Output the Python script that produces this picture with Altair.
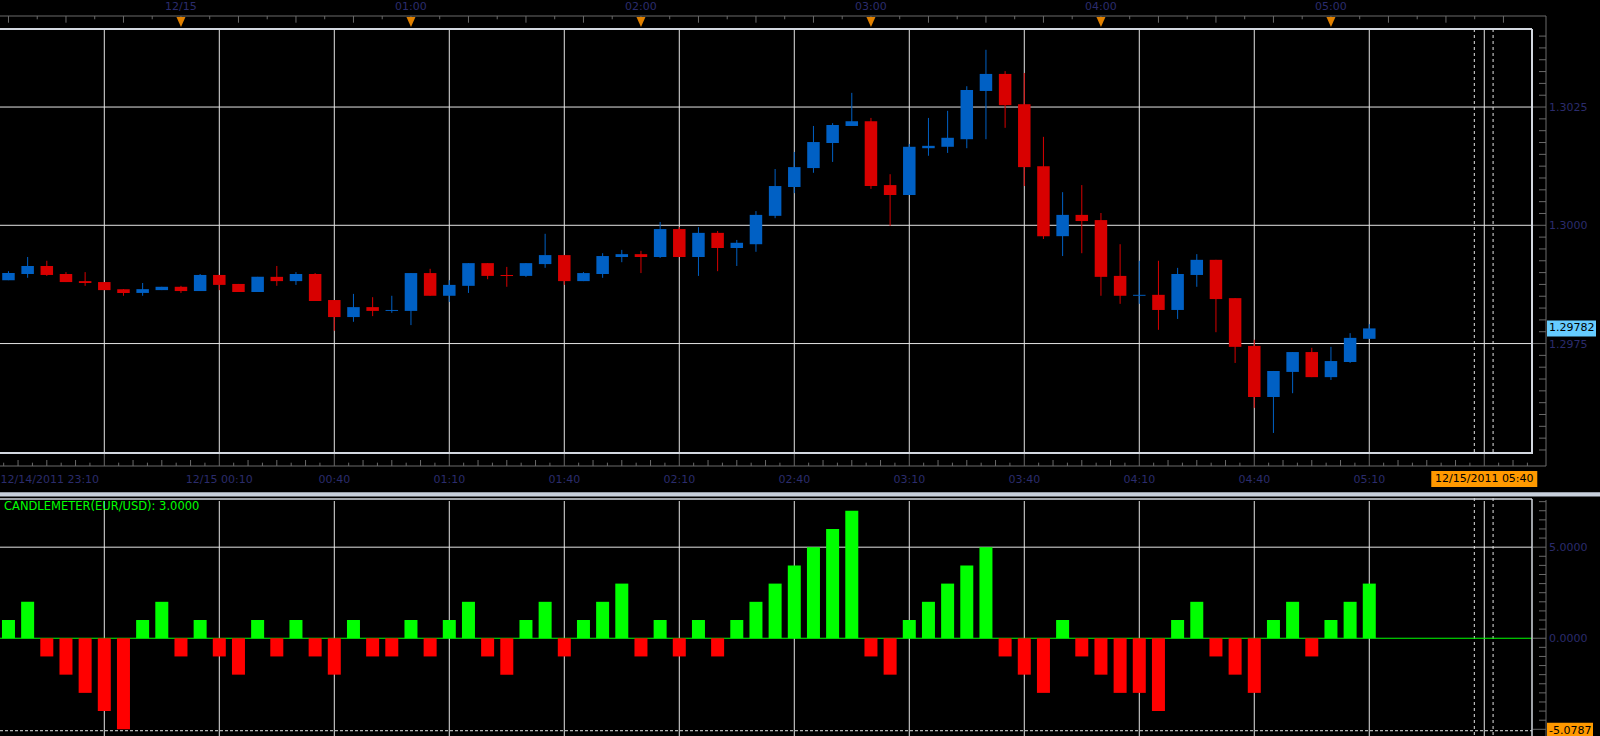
import altair as alt
import pandas as pd

# ---------------- data: EUR/USD 5-minute candles ----------------
# x position = minutes after 12/14/2011 23:00 (first candle 23:15, last 05:10)
MINUTES = [15 + 5 * i for i in range(72)]

OPEN = [1.29884, 1.29897, 1.29914, 1.29897, 1.29882, 1.29880, 1.29865, 1.29857, 1.29863, 1.29870,
        1.29861, 1.29895, 1.29876, 1.29859, 1.29891, 1.29882, 1.29897, 1.29842, 1.29806, 1.29827,
        1.29819, 1.29819, 1.29899, 1.29851, 1.29872, 1.29920, 1.29895, 1.29893, 1.29918, 1.29937,
        1.29882, 1.29897, 1.29933, 1.29939, 1.29933, 1.29992, 1.29933, 1.29984, 1.29952, 1.29960,
        1.30020, 1.30081, 1.30121, 1.30174, 1.30210, 1.30220, 1.30085, 1.30064, 1.30163, 1.30166,
        1.30182, 1.30284, 1.30320, 1.30256, 1.30125, 1.29977, 1.30022, 1.30011, 1.29893, 1.29851,
        1.29853, 1.29821, 1.29895, 1.29927, 1.29846, 1.29745, 1.29637, 1.29690, 1.29732, 1.29679,
        1.29711, 1.29760]
HIGH = [1.29903, 1.29933, 1.29925, 1.29901, 1.29901, 1.29880, 1.29865, 1.29878, 1.29870, 1.29872,
        1.29897, 1.29895, 1.29876, 1.29891, 1.29914, 1.29901, 1.29899, 1.29842, 1.29855, 1.29848,
        1.29851, 1.29899, 1.29908, 1.29884, 1.29920, 1.29920, 1.29912, 1.29920, 1.29982, 1.29937,
        1.29901, 1.29941, 1.29948, 1.29946, 1.30007, 1.29996, 1.29996, 1.29988, 1.29969, 1.30030,
        1.30119, 1.30155, 1.30210, 1.30216, 1.30280, 1.30227, 1.30108, 1.30172, 1.30227, 1.30242,
        1.30294, 1.30371, 1.30326, 1.30322, 1.30187, 1.30070, 1.30085, 1.30026, 1.29960, 1.29925,
        1.29925, 1.29910, 1.29939, 1.29927, 1.29846, 1.29758, 1.29692, 1.29732, 1.29741, 1.29743,
        1.29772, 1.29791]
LOW = [1.29884, 1.29889, 1.29893, 1.29880, 1.29872, 1.29863, 1.29851, 1.29851, 1.29863, 1.29857,
       1.29861, 1.29863, 1.29859, 1.29859, 1.29872, 1.29874, 1.29840, 1.29777, 1.29796, 1.29808,
       1.29815, 1.29789, 1.29851, 1.29838, 1.29857, 1.29886, 1.29870, 1.29891, 1.29910, 1.29874,
       1.29882, 1.29889, 1.29922, 1.29899, 1.29931, 1.29933, 1.29893, 1.29903, 1.29914, 1.29944,
       1.30015, 1.30068, 1.30111, 1.30134, 1.30210, 1.30077, 1.29999, 1.30064, 1.30147, 1.30153,
       1.30163, 1.30182, 1.30206, 1.30083, 1.29971, 1.29935, 1.29941, 1.29851, 1.29834, 1.29834,
       1.29779, 1.29802, 1.29870, 1.29774, 1.29709, 1.29614, 1.29561, 1.29645, 1.29679, 1.29673,
       1.29709, 1.29760]
CLOSE = [1.29899, 1.29914, 1.29895, 1.29880, 1.29878, 1.29863, 1.29857, 1.29865, 1.29870, 1.29861,
         1.29895, 1.29874, 1.29859, 1.29891, 1.29882, 1.29897, 1.29840, 1.29806, 1.29827, 1.29819,
         1.29821, 1.29899, 1.29851, 1.29874, 1.29920, 1.29893, 1.29893, 1.29920, 1.29937, 1.29882,
         1.29899, 1.29935, 1.29939, 1.29933, 1.29992, 1.29933, 1.29984, 1.29952, 1.29963, 1.30022,
         1.30083, 1.30123, 1.30176, 1.30212, 1.30220, 1.30083, 1.30064, 1.30166, 1.30168, 1.30185,
         1.30286, 1.30320, 1.30254, 1.30123, 1.29977, 1.30022, 1.30009, 1.29891, 1.29851, 1.29853,
         1.29821, 1.29897, 1.29927, 1.29844, 1.29743, 1.29637, 1.29692, 1.29732, 1.29679, 1.29713,
         1.29762, 1.29782]
CANDLEMETER = [1, 2, -1, -2, -3, -4, -5, 1, 2, -1,
               1, -1, -2, 1, -1, 1, -1, -2, 1, -1,
               -1, 1, -1, 1, 2, -1, -2, 1, 2, -1,
               1, 2, 3, -1, 1, -1, 1, -1, 1, 2,
               3, 4, 5, 6, 7, -1, -2, 1, 2, 3,
               4, 5, -1, -2, -3, 1, -1, -2, -3, -3,
               -4, 1, 2, -1, -2, -3, 1, 2, -1, 1,
               2, 3]

TOP_LABEL_MIN = [60, 120, 180, 240, 300, 360]
TOP_LABELS = ["12/15", "01:00", "02:00", "03:00", "04:00", "05:00"]
MID_LABEL_MIN = [70, 100, 130, 160, 190, 220, 250, 280, 310, 340, 370]
MID_LABELS = ["12/15 00:10", "00:40", "01:10", "01:40", "02:10", "02:40",
              "03:10", "03:40", "04:10", "04:40", "05:10"]
FIRST_LABEL = "12/14/2011 23:10"
CURSOR_MIN = [400]
CURSOR_LABEL = ["12/15/2011 05:40"]
CURSOR_DASH_MIN = [397.4, 402.3]
VGRID_MIN = [40, 70, 100, 130, 160, 190, 220, 250, 280, 310, 340, 370, 400]
PRICE_LABEL_VALUES = [1.3025, 1.3000, 1.2975]
PRICE_LABELS = ["1.3025", "1.3000", "1.2975"]
LAST_PRICE = [1.29782]
LAST_PRICE_LABEL = ["1.29782"]
HIST_LABEL_VALUES = [5, 0]
HIST_LABELS = ["5.0000", "0.0000"]
HIST_GRID = [5]
HIST_MIN = [-5.0787]
HIST_MIN_LABEL = ["-5.0787"]
TITLE = ["CANDLEMETER(EUR/USD): 3.0000"]

TOP_TICKS = [15 + 7.5 * k for k in range(53)]
MID_TICKS = [13.75 + 3.75 * k for k in range(107)]
PRICE_TICKS = [round(1.29525 + 0.00025 * k, 5) for k in range(36)]
HIST_TICKS = [-5 + 0.5 * k for k in range(26)]

# ---------------- layout / style ----------------
W, H = 1532, 707
X_MIN, X_MAX = 12.79, 412.45
P_BOT, P_TOP = 1.295186, 1.304150
H_BOT, H_TOP = -5.368, 7.70

BLUE = "#0060c4"
RED = "#d80000"
GREEN = "#00ff00"
HRED = "#ff0000"
GRID = "#e4e4e4"
FRAME = "#d3d8e0"
AXIS = "#6a6a6a"
NAVY = "#2b2c6c"
ORANGE_MARK = "#e08000"
ORANGE_BOX = "#ff9900"
LIGHTBLUE = "#66ccff"
SEP = "#c8d0dc"
FONT = "DejaVu Sans"

XS = alt.Scale(domain=[X_MIN, X_MAX], nice=False, zero=False, padding=0)
PS = alt.Scale(domain=[P_BOT, P_TOP], range=[424, 0], nice=False, zero=False, padding=0)
HS = alt.Scale(domain=[H_BOT, H_TOP], range=[707, 469], nice=False, zero=False, padding=0)


def xq(f="m"):
    return alt.X(f"{f}:Q", scale=XS, axis=None)


def yp(f="p"):
    return alt.Y(f"{f}:Q", scale=PS, axis=None)


def yh(f="v"):
    return alt.Y(f"{f}:Q", scale=HS, axis=None)


one = pd.DataFrame({"a": [0]})
candles = pd.DataFrame({"m": MINUTES, "open": OPEN, "high": HIGH, "low": LOW, "close": CLOSE})
candles["col"] = [BLUE if c >= o else RED for o, c in zip(OPEN, CLOSE)]
hist = pd.DataFrame({"m": MINUTES, "v": CANDLEMETER})
hist["col"] = [GREEN if v > 0 else HRED for v in CANDLEMETER]

vg = pd.DataFrame({"m": VGRID_MIN})
dash = pd.DataFrame({"m": CURSOR_DASH_MIN})
top_t = pd.DataFrame({"m": TOP_TICKS})
top_t["tall"] = [m % 15 == 0 for m in TOP_TICKS]
mid_t = pd.DataFrame({"m": MID_TICKS})
mid_t["kind"] = ["major" if (m - 10) % 30 == 0 else ("tall" if (m - 10) % 7.5 == 0 else "short")
                 for m in MID_TICKS]
mid_t = mid_t[mid_t["kind"] != "major"]
p_minor = pd.DataFrame({"p": [p for p in PRICE_TICKS if round(p / 0.0025, 6) % 1 != 0]})
h_minor = pd.DataFrame({"v": [v for v in HIST_TICKS if v % 5 != 0]})

layers = []

# separator bar between the two panels
layers.append(alt.Chart(one).mark_rect(color=SEP).encode(
    x=alt.value(0), x2=alt.value(1600), y=alt.value(463.3), y2=alt.value(467.6)))

# vertical grid lines (both panels)
layers.append(alt.Chart(vg).mark_rule(color=GRID, strokeWidth=1).encode(
    x=xq(), y=alt.value(0), y2=alt.value(424)))
layers.append(alt.Chart(vg).mark_rule(color=GRID, strokeWidth=1).encode(
    x=xq(), y=alt.value(472), y2=alt.value(707)))
layers.append(alt.Chart(dash).mark_rule(color=GRID, strokeWidth=1, strokeDash=[3, 3]).encode(
    x=xq(), y=alt.value(0), y2=alt.value(424)))
layers.append(alt.Chart(dash).mark_rule(color=GRID, strokeWidth=1, strokeDash=[3, 3]).encode(
    x=xq(), y=alt.value(469), y2=alt.value(707)))

# horizontal price grid
pg = pd.DataFrame({"p": PRICE_LABEL_VALUES, "t": PRICE_LABELS})
layers.append(alt.Chart(pg).mark_rule(color=GRID, strokeWidth=1).encode(
    y=yp(), x=alt.value(0), x2=alt.value(1532)))

# histogram grid / zero line / min line
layers.append(alt.Chart(pd.DataFrame({"v": HIST_GRID})).mark_rule(color=GRID, strokeWidth=1).encode(
    y=yh(), x=alt.value(0), x2=alt.value(1532)))
layers.append(alt.Chart(pd.DataFrame({"v": HIST_MIN})).mark_rule(
    color=GRID, strokeWidth=1, strokeDash=[3, 2]).encode(y=yh(), x=alt.value(0), x2=alt.value(1532)))
layers.append(alt.Chart(pd.DataFrame({"v": [0]})).mark_rule(color=GREEN, strokeWidth=1).encode(
    y=yh(), x=alt.value(0), x2=alt.value(1532)))

# candles
layers.append(alt.Chart(candles).mark_rule(strokeWidth=1).encode(
    x=xq(), y=yp("low"), y2="high:Q", color=alt.Color("col:N", scale=None)))
layers.append(alt.Chart(candles).mark_bar(size=12.5).encode(
    x=xq(), y=yp("open"), y2="close:Q", color=alt.Color("col:N", scale=None)))

# candlemeter histogram
layers.append(alt.Chart(hist).mark_bar(size=13).encode(
    x=xq(), y=yh(), y2=alt.datum(0), color=alt.Color("col:N", scale=None)))

# panel frames
layers.append(alt.Chart(one).mark_rule(color=FRAME, strokeWidth=2).encode(
    x=alt.value(0), x2=alt.value(1532), y=alt.value(0)))
layers.append(alt.Chart(one).mark_rule(color=FRAME, strokeWidth=2).encode(
    x=alt.value(0), x2=alt.value(1532), y=alt.value(424)))
layers.append(alt.Chart(one).mark_rule(color=FRAME, strokeWidth=2).encode(
    x=alt.value(1532), y=alt.value(0), y2=alt.value(425)))
layers.append(alt.Chart(one).mark_rule(color=FRAME, strokeWidth=1.5).encode(
    x=alt.value(0), x2=alt.value(1532), y=alt.value(470)))
layers.append(alt.Chart(one).mark_rule(color=FRAME, strokeWidth=1.5).encode(
    x=alt.value(1532), y=alt.value(470), y2=alt.value(707)))

# axis lines
layers.append(alt.Chart(one).mark_rule(color=AXIS, strokeWidth=1).encode(
    x=alt.value(0), x2=alt.value(1546), y=alt.value(-13)))
layers.append(alt.Chart(one).mark_rule(color=AXIS, strokeWidth=1).encode(
    x=alt.value(0), x2=alt.value(1546), y=alt.value(437)))
layers.append(alt.Chart(one).mark_rule(color=AXIS, strokeWidth=1).encode(
    x=alt.value(1546), y=alt.value(-13), y2=alt.value(437)))
layers.append(alt.Chart(one).mark_rule(color=AXIS, strokeWidth=1).encode(
    x=alt.value(1546), y=alt.value(471), y2=alt.value(707)))

# time ticks (top axis)
layers.append(alt.Chart(top_t[top_t["tall"]]).mark_rule(color=AXIS).encode(
    x=xq(), y=alt.value(-13), y2=alt.value(-6.3)))
layers.append(alt.Chart(top_t[~top_t["tall"]]).mark_rule(color=AXIS).encode(
    x=xq(), y=alt.value(-13), y2=alt.value(-9.7)))
# time ticks (middle axis)
layers.append(alt.Chart(vg).mark_rule(color=AXIS).encode(
    x=xq(), y=alt.value(425), y2=alt.value(437)))
layers.append(alt.Chart(mid_t[mid_t["kind"] == "tall"]).mark_rule(color=AXIS).encode(
    x=xq(), y=alt.value(431), y2=alt.value(437)))
layers.append(alt.Chart(mid_t[mid_t["kind"] == "short"]).mark_rule(color=AXIS).encode(
    x=xq(), y=alt.value(433.7), y2=alt.value(437)))

# price ticks
layers.append(alt.Chart(pg).mark_rule(color=AXIS).encode(
    y=yp(), x=alt.value(1533), x2=alt.value(1546)))
layers.append(alt.Chart(p_minor).mark_rule(color=AXIS).encode(
    y=yp(), x=alt.value(1539), x2=alt.value(1546)))
# histogram ticks
layers.append(alt.Chart(pd.DataFrame({"v": [5, 0, -5]})).mark_rule(color=AXIS).encode(
    y=yh(), x=alt.value(1533), x2=alt.value(1546)))
layers.append(alt.Chart(h_minor).mark_rule(color=AXIS).encode(
    y=yh(), x=alt.value(1539), x2=alt.value(1546)))

# hour markers (orange triangles)
tl = pd.DataFrame({"m": TOP_LABEL_MIN, "t": TOP_LABELS})
layers.append(alt.Chart(tl).mark_point(
    shape="M-1,-1.1L1,-1.1L0,1.1Z", filled=True, size=81, color=ORANGE_MARK, opacity=1).encode(
    x=xq(), y=alt.value(-7)))

# top time labels
layers.append(alt.Chart(tl).mark_text(font=FONT, fontSize=11, color=NAVY, align="center",
                                      baseline="middle").encode(
    x=xq(), y=alt.value(-22), text="t:N"))
# middle time labels
ml = pd.DataFrame({"m": MID_LABEL_MIN, "t": MID_LABELS})
layers.append(alt.Chart(ml).mark_text(font=FONT, fontSize=11, color=NAVY, align="center",
                                      baseline="middle").encode(
    x=xq(), y=alt.value(451), text="t:N"))
layers.append(alt.Chart(pd.DataFrame({"t": [FIRST_LABEL]})).mark_text(
    font=FONT, fontSize=11, color=NAVY, align="left", baseline="middle").encode(
    x=alt.value(0.5), y=alt.value(451), text="t:N"))

# cursor time box
cur = pd.DataFrame({"m": CURSOR_MIN, "t": CURSOR_LABEL})
layers.append(alt.Chart(cur).mark_rect(color=ORANGE_BOX, xOffset=-53, x2Offset=53).encode(
    x=xq(), x2="m:Q", y=alt.value(442), y2=alt.value(458)))
layers.append(alt.Chart(cur).mark_text(font=FONT, fontSize=11, color="#000000", align="center",
                                       baseline="middle").encode(
    x=xq(), y=alt.value(450), text="t:N"))

# price labels
layers.append(alt.Chart(pg).mark_text(font=FONT, fontSize=11, color=NAVY, align="left",
                                      baseline="middle", dy=1).encode(
    y=yp(), x=alt.value(1549), text="t:N"))
lp = pd.DataFrame({"p": LAST_PRICE, "t": LAST_PRICE_LABEL})
layers.append(alt.Chart(lp).mark_rect(color=LIGHTBLUE, yOffset=-8, y2Offset=8).encode(
    y=yp(), y2="p:Q", x=alt.value(1547), x2=alt.value(1596)))
layers.append(alt.Chart(lp).mark_text(font=FONT, fontSize=11, color="#000000", align="left",
                                      baseline="middle").encode(
    y=yp(), x=alt.value(1549), text="t:N"))

# histogram labels
hl = pd.DataFrame({"v": HIST_LABEL_VALUES, "t": HIST_LABELS})
layers.append(alt.Chart(hl).mark_text(font=FONT, fontSize=11, color=NAVY, align="left",
                                      baseline="middle", dy=1).encode(
    y=yh(), x=alt.value(1549), text="t:N"))
hm = pd.DataFrame({"v": HIST_MIN, "t": HIST_MIN_LABEL})
layers.append(alt.Chart(hm).mark_rect(color=ORANGE_BOX, yOffset=-8, y2Offset=8).encode(
    y=yh(), y2="v:Q", x=alt.value(1547), x2=alt.value(1593)))
layers.append(alt.Chart(hm).mark_text(font=FONT, fontSize=11, color="#000000", align="left",
                                      baseline="middle").encode(
    y=yh(), x=alt.value(1549), text="t:N"))

# indicator title
layers.append(alt.Chart(pd.DataFrame({"t": TITLE})).mark_text(
    font=FONT, fontSize=11.5, color=GREEN, align="left", baseline="middle").encode(
    x=alt.value(4), y=alt.value(477.7), text="t:N"))

chart = alt.layer(*layers).properties(
    width=W, height=H,
    padding={"left": 0, "top": 29, "right": 68, "bottom": 0},
    autosize=alt.AutoSizeParams(type="none"),
    background="#000000",
).resolve_scale(y="independent").configure_view(strokeWidth=0)

chart.save("out.html", embed_options={"renderer": "svg", "actions": False})
